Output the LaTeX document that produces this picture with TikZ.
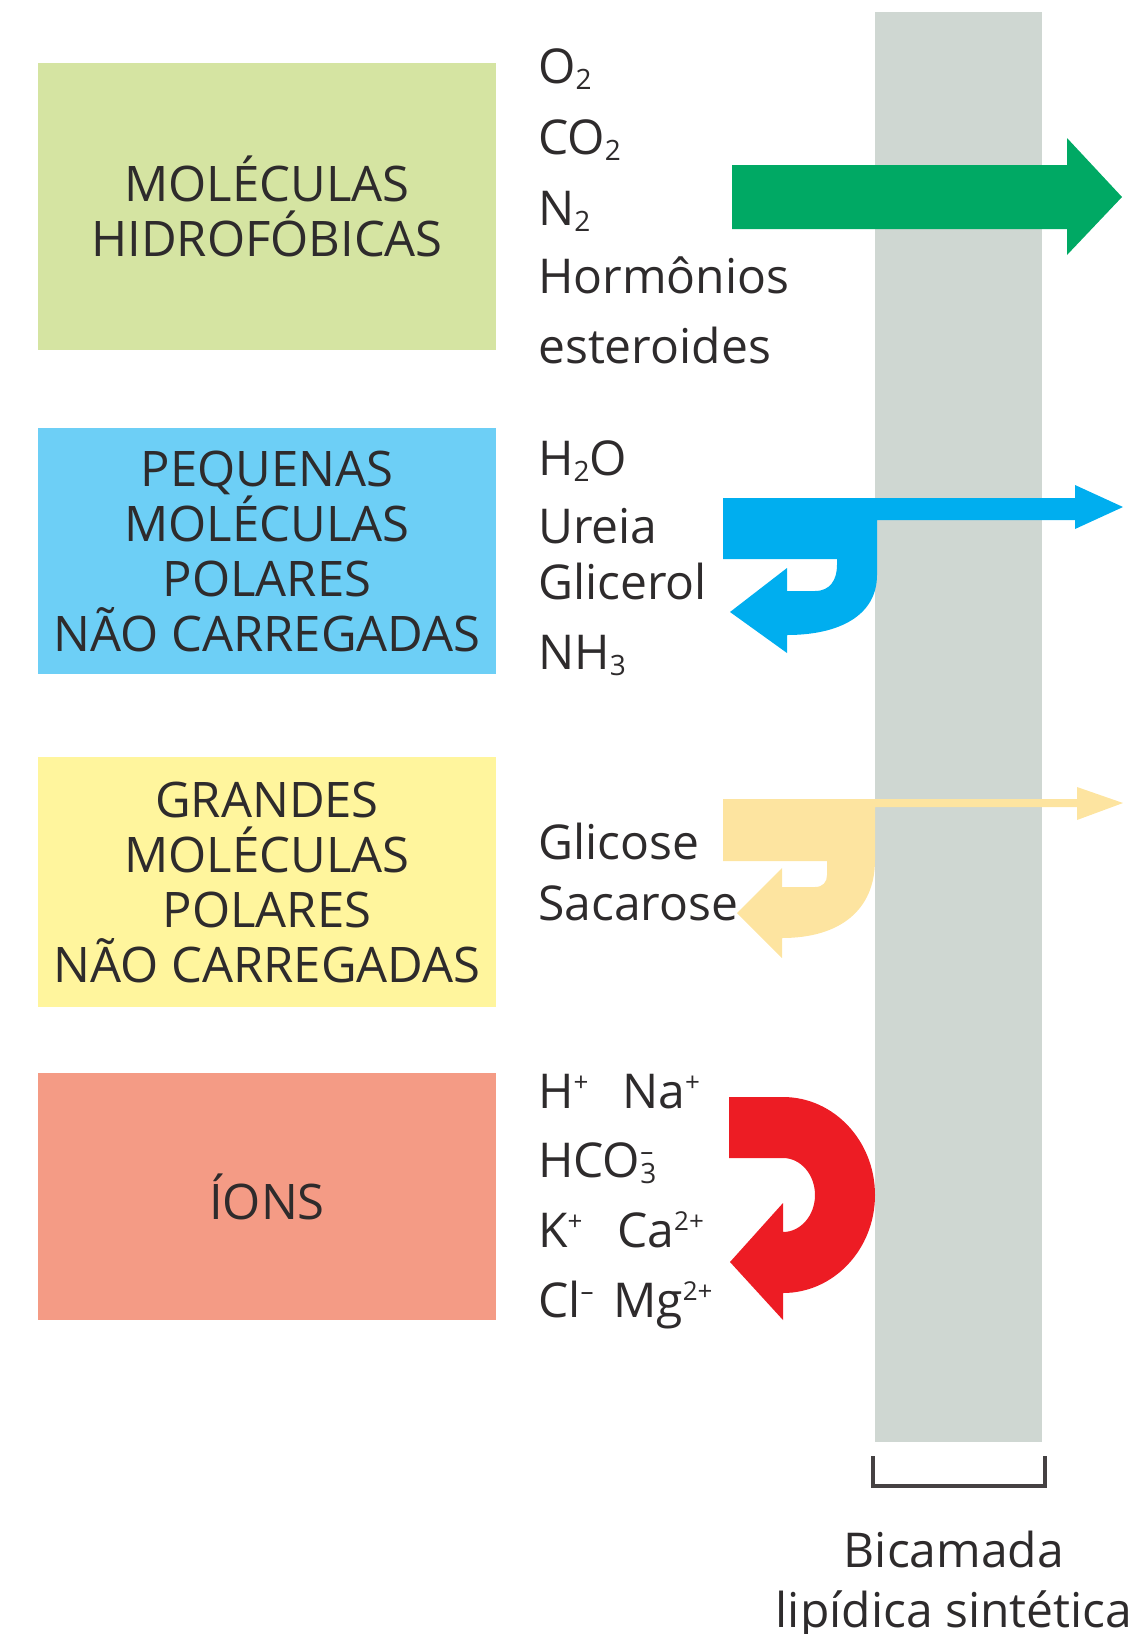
\documentclass[tikz,border=0pt]{standalone}
\usepackage{fontspec}
\setmainfont{Open Sans}
\usetikzlibrary{positioning}

\definecolor{hydrofill}{HTML}{D5E4A2}
\definecolor{smallfill}{HTML}{6DCFF6}
\definecolor{largefill}{HTML}{FFF59D}
\definecolor{ionfill}{HTML}{F49B85}
\definecolor{membrane}{HTML}{CFD7D2}
\definecolor{passgreen}{HTML}{00A964}
\definecolor{passblue}{HTML}{00AEEF}
\definecolor{passyellow}{HTML}{FDE4A0}
\definecolor{passred}{HTML}{ED1C24}
\definecolor{inkgray}{HTML}{2E2B2C}
\definecolor{bracketgray}{HTML}{454142}

\newcommand{\ix}[1]{\raisebox{-6pt}{\fontsize{28}{28}\selectfont #1}}
\newcommand{\ex}[1]{\raisebox{17pt}{\fontsize{26}{26}\selectfont #1}}

\begin{document}
\begin{tikzpicture}[x=1pt, y=-1pt,
  category/.style={rectangle, minimum width=458pt, align=center, inner sep=0pt,
    font=\fontsize{49}{55}\selectfont, text=inkgray},
  solute/.style={anchor=base west, inner sep=0pt,
    font=\fontsize{48}{55}\selectfont, text=inkgray}]

  \useasboundingbox (0,0) rectangle (1142,1634);

  % Categories on the left
  \node[category, fill=hydrofill, minimum height=287pt] (hydro) at (267,206.5) {MOLÉCULAS\\HIDROFÓBICAS};
  \node[category, fill=smallfill, minimum height=246pt] (small) at (267,551) {PEQUENAS\\MOLÉCULAS\\POLARES\\NÃO CARREGADAS};
  \node[category, fill=largefill, minimum height=250pt] (large) at (267,882) {GRANDES\\MOLÉCULAS\\POLARES\\NÃO CARREGADAS};
  \node[category, fill=ionfill, minimum height=247pt] (ions) at (267,1196.5) {ÍONS};

  % Lipid bilayer
  \node[fill=membrane, minimum width=167pt, minimum height=1430pt, inner sep=0pt] (bilayer) at (958.5,727) {};
  \draw[bracketgray, line width=4pt] (873,1456) -- (873,1486) -- (1045,1486) -- (1045,1456);
  \node[solute, anchor=base] (bic1) at (954,1567) {Bicamada};
  \node[solute, anchor=base] (bic2) at (954,1627) {lipídica sintética};

  % Solutes
  \node[solute] (o2) at (538,83) {O\ix{2}};
  \node[solute] (co2) at (538,154) {CO\ix{2}};
  \node[solute] (n2) at (538,225) {N\ix{2}};
  \node[solute] (horm) at (538,293) {Hormônios};
  \node[solute] (ster) at (538,363) {esteroides};

  \node[solute] (h2o) at (538,475) {H\ix{2}O};
  \node[solute] (urea) at (538,543) {Ureia};
  \node[solute] (glyc) at (538,599) {Glicerol};
  \node[solute] (nh3) at (538,669) {NH\ix{3}};

  \node[solute] (gluc) at (538,859) {Glicose};
  \node[solute] (sucr) at (538,920) {Sacarose};

  \node[solute] (hplus) at (538,1108) {H\ex{+}};
  \node[solute] (naplus) at (622,1108) {Na\ex{+}};
  \node[solute] (hco3) at (538,1177) {HCO\rlap{\ex{–}}\ix{3}};
  \node[solute] (kplus) at (538,1247) {K\ex{+}};
  \node[solute] (caplus) at (617,1247) {Ca\ex{2+}};
  \node[solute] (clminus) at (538,1317) {Cl\ex{–}};
  \node[solute] (mgplus) at (613,1317) {Mg\ex{2+}};

  % Passage arrows
  \fill[passgreen] (732,165) -- (1067,165) -- (1067,138) -- (1122,197) -- (1067,255) -- (1067,229) -- (732,229) -- cycle;

  \fill[passblue] (723,498) -- (1075,498) -- (1075,485) -- (1123,507) -- (1075,529) -- (1075,520) -- (877,520) -- (877,575)
    .. controls (877,615) and (840,635) .. (787,635) -- (787,653) -- (730,612) -- (787,568) -- (787,591) -- (815,591)
    .. controls (830,591) and (837,580) .. (837,565) -- (837,559) -- (723,559) -- cycle;

  \fill[passyellow] (723,799) -- (1077,799) -- (1077,787) -- (1123,803) -- (1077,820) -- (1077,807) -- (875,807) -- (875,860)
    .. controls (875,910) and (840,938) .. (782,938) -- (782,958) -- (737,913) -- (782,868) -- (782,887) -- (815,887)
    .. controls (823,887) and (827,882) .. (827,875) -- (827,861) -- (723,861) -- cycle;

  \fill[passred] (729,1097) -- (783,1097) arc[start angle=-90, end angle=90, x radius=92, y radius=98]
    -- (783,1320) -- (730,1262) -- (783,1203) -- (783,1232)
    arc[start angle=90, end angle=-90, x radius=32, y radius=37] -- (729,1158) -- cycle;

\end{tikzpicture}
\end{document}
